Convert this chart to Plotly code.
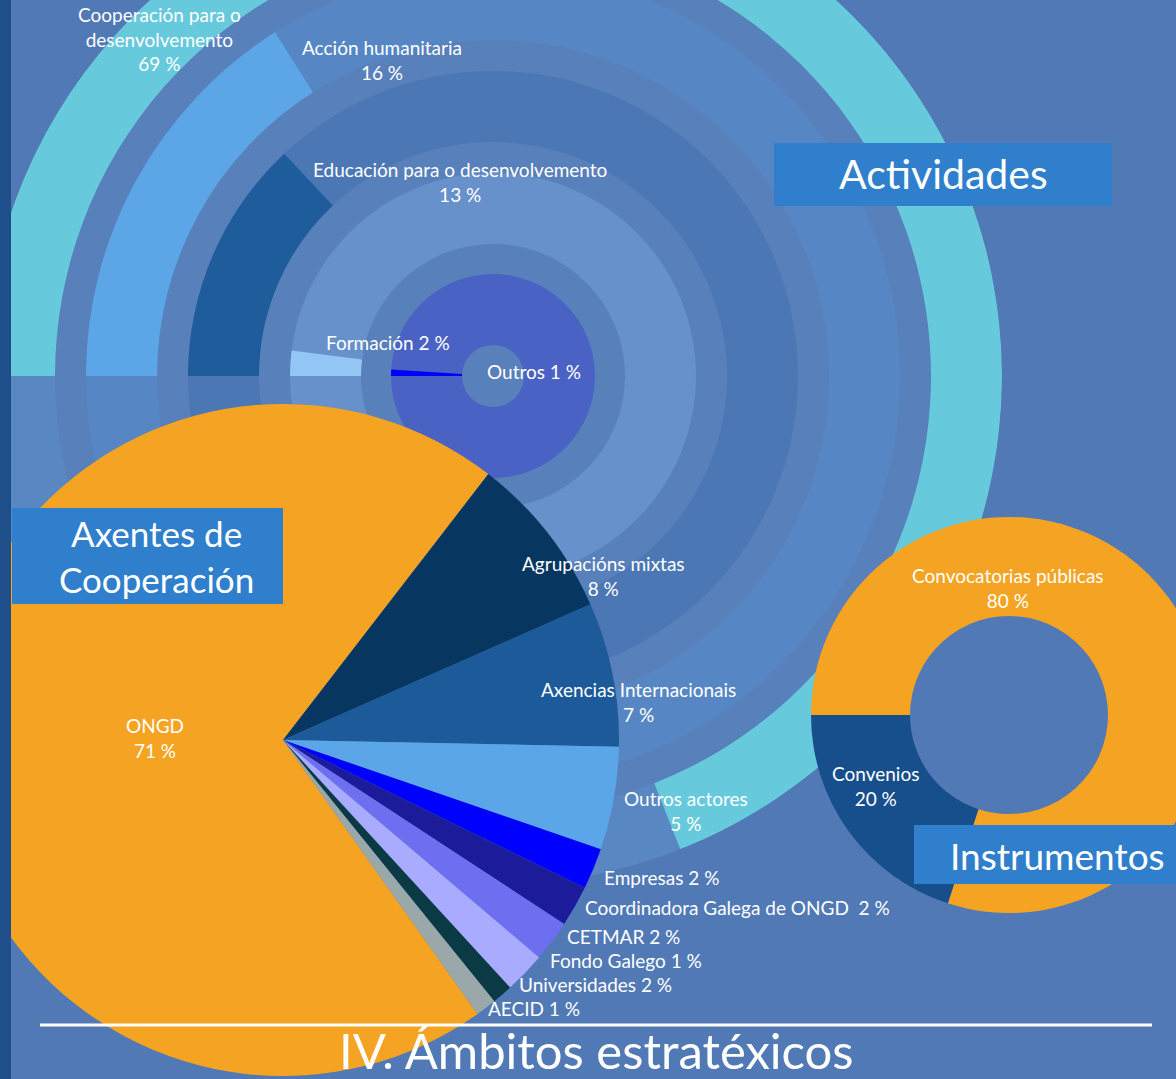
import plotly.graph_objects as go

# ---------------- data ----------------
act_labels = ["Cooperación para o<br>desenvolvemento", "Acción humanitaria",
              "Educación para o desenvolvemento", "Formación", "Outros"]
act_values = [69, 16, 13, 2, 1]

agent_labels = ["ONGD", "Agrupacións mixtas", "Axencias Internacionais", "Outros actores",
                "Empresas", "Coordinadora Galega de ONGD\u00a0", "CETMAR", "Universidades",
                "Fondo Galego", "AECID"]
agent_values = [71, 8, 7, 5, 2, 2, 2, 2, 1, 1]

instr_labels = ["Convocatorias públicas", "Convenios"]
instr_values = [80, 20]

section_titles = ["Actividades", "Axentes de<br>Cooperación", "Instrumentos"]
page_title = "IV. Ámbitos estratéxicos"

# ---------------- layout helpers ----------------
OX, OY = 60, 140           # hidden margin (page is shifted so the charts can bleed off the edge)
W, H = 60 + 1176 + 40, 140 + 1079


def px(x):
    return (x + OX) / W


def py(y):
    return 1 - (y + OY) / H


BG = "#5179b5"
GAP = "#5880bb"
WHITE = "#ffffff"
FONT = "Lato"

fig = go.Figure()

# ---------------- Actividades: radial bars ----------------
ring_inner = [438, 336, 234, 132, 31]
ring_width = 71
track_colors = ["#5987c2", "#5687c4", "#4b77b4", "#6791cb", "#4a62c4"]
bar_colors = ["#66c9dc", "#5ca6e8", "#1e5c9c", "#93c6f5", "#0000ff"]

fig.add_trace(go.Barpolar(
    r=[ring_width] * len(act_values), base=ring_inner,
    theta=[180] * len(act_values), width=[360] * len(act_values),
    marker=dict(color=track_colors, line=dict(width=0)),
    hoverinfo="skip", showlegend=False, subplot="polar"))
fig.add_trace(go.Barpolar(
    r=[ring_width] * len(act_values), base=ring_inner,
    theta=[v * 3.6 / 2 for v in act_values], width=[v * 3.6 for v in act_values],
    marker=dict(color=bar_colors, line=dict(width=0)),
    text=act_labels, hoverinfo="text", showlegend=False, subplot="polar"))

R_ACT, CX_ACT, CY_ACT = 509, 493, 376
fig.update_layout(polar=dict(
    domain=dict(x=[px(CX_ACT - R_ACT), px(CX_ACT + R_ACT)],
                y=[py(CY_ACT + R_ACT), py(CY_ACT - R_ACT)]),
    bgcolor=GAP, hole=0,
    radialaxis=dict(visible=False, range=[0, R_ACT]),
    angularaxis=dict(visible=False, rotation=180, direction="clockwise"),
))

# ---------------- Axentes de Cooperación: pie ----------------
agent_colors = ["#f4a422", "#073760", "#1c5a9a", "#5ba6e8", "#0000ff",
                "#1c1c9a", "#6e6ff0", "#a9abff", "#0b3a44", "#9ba8a9"]
CX_P, CY_P, R_P = 283, 740, 336
fig.add_trace(go.Pie(
    labels=agent_labels, values=agent_values, sort=False, direction="clockwise",
    rotation=144.6, textinfo="none", hoverinfo="label+value",
    marker=dict(colors=agent_colors, line=dict(width=0)), showlegend=False,
    domain=dict(x=[px(CX_P - R_P), px(CX_P + R_P)], y=[py(CY_P + R_P), py(CY_P - R_P)])))

# ---------------- Instrumentos: donut ----------------
CX_D, CY_D, R_D = 1009, 715, 198
fig.add_trace(go.Pie(
    labels=instr_labels, values=instr_values, sort=False, direction="clockwise",
    rotation=-90, hole=0.5, textinfo="none", hoverinfo="label+value",
    marker=dict(colors=["#f4a422", "#164f8b"], line=dict(width=0)), showlegend=False,
    domain=dict(x=[px(CX_D - R_D), px(CX_D + R_D)], y=[py(CY_D + R_D), py(CY_D - R_D)])))

# ---------------- shapes ----------------
shapes = []
BOX = "#2f7fcc"
for (x0, y0, x1, y1) in [(774, 143, 1112, 206), (12, 508, 283, 604), (914, 825, 1176, 884)]:
    shapes.append(dict(type="rect", xref="paper", yref="paper", layer="above",
                       x0=px(x0), x1=px(x1), y0=py(y1), y1=py(y0),
                       fillcolor=BOX, line=dict(width=0)))
shapes.append(dict(type="rect", xref="paper", yref="paper", layer="above",
                   x0=px(-OX), x1=px(11), y0=0, y1=1, fillcolor="#1f4f8a", line=dict(width=0)))
shapes.append(dict(type="line", xref="paper", yref="paper", layer="above",
                   x0=px(40), x1=px(1152), y0=py(1025), y1=py(1025),
                   line=dict(color=WHITE, width=3)))

# ---------------- annotations ----------------
ann = []


def add_text(txt, x, y, size=19):
    ann.append(dict(text=txt, x=px(x), y=py(y), xref="paper", yref="paper",
                    xanchor="center", yanchor="middle", showarrow=False, align="center",
                    font=dict(family=FONT, size=size, color=WHITE)))


# Actividades labels  (centre x, centre y, layout)
act_pos = [(159, 39, "multi"), (382, 60, "multi"), (460, 182, "multi"),
           (388, 342, "single"), (534, 371, "single")]
for lab, val, (x, y, mode) in zip(act_labels, act_values, act_pos):
    if mode == "multi":
        add_text(f"{lab}<br>{val} %", x, y)
    else:
        add_text(f"{lab} {val} %", x, y)

# Axentes labels
agent_pos = {"ONGD": (155, 738, "multi"), "Agrupacións mixtas": (603, 576, "multi"),
             "Axencias Internacionais": (638, 702, "multi"), "Outros actores": (686, 811, "multi"),
             "Empresas": (661, 877, "single"), "Coordinadora Galega de ONGD\u00a0": (737, 907, "single"),
             "CETMAR": (623, 936, "single"), "Fondo Galego": (626, 960, "single"),
             "Universidades": (595, 984, "single"), "AECID": (534, 1008, "single")}
for lab, val in zip(agent_labels, agent_values):
    x, y, mode = agent_pos[lab]
    if mode == "multi":
        add_text(f"{lab}<br>{val} %", x, y)
    else:
        add_text(f"{lab} {val} %", x, y)

# Instrumentos labels
instr_pos = [(1008, 588), (875, 786)]
for lab, val, (x, y) in zip(instr_labels, instr_values, instr_pos):
    add_text(f"{lab}<br>{val} %", x, y)

# section titles
add_text(section_titles[0], 943, 174, size=41)
add_text(section_titles[1], 156, 556, size=35)
add_text(section_titles[2], 1057, 855, size=37)
add_text(page_title, 596, 1050, size=49)

fig.update_layout(
    width=W, height=H, margin=dict(l=0, r=0, t=0, b=0, pad=0),
    paper_bgcolor=BG, plot_bgcolor=BG, shapes=shapes, annotations=ann,
    showlegend=False, font=dict(family=FONT, color=WHITE),
)

post = ("var gd=document.getElementById('{plot_id}');"
        "document.body.style.margin='0';document.body.style.overflow='hidden';"
        "document.body.style.background='" + BG + "';"
        "gd.style.position='absolute';gd.style.left='-%dpx';gd.style.top='-%dpx';" % (OX, OY))
fig.write_html("out.html", config={"displayModeBar": False}, post_script=post)
